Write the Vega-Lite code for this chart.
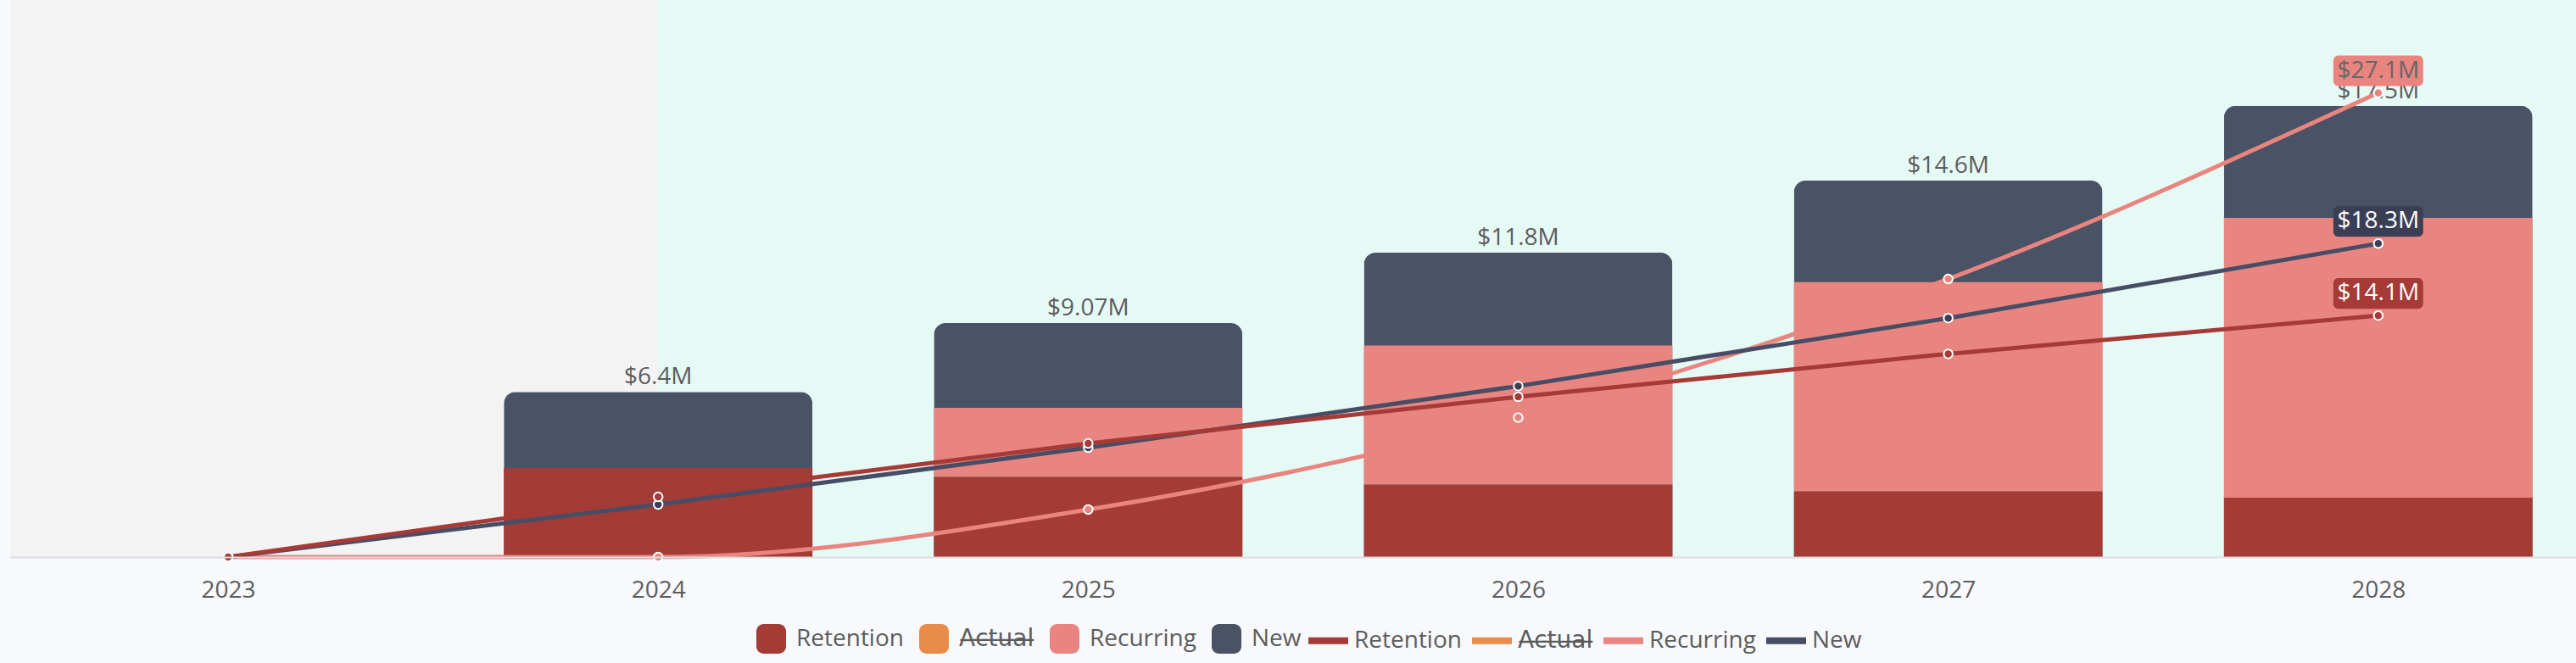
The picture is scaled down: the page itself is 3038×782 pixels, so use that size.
{
  "$schema": "https://vega.github.io/schema/vega-lite/v6.json",
  "width": 3026,
  "height": 657,
  "autosize": {"type": "none"},
  "padding": {"left": 12, "top": 0, "right": 0, "bottom": 125},
  "background": "#f8f9fc",
  "config": {
    "view": {"stroke": null},
    "font": "Open Sans",
    "legend": {"labelFont": "'Open Sans', 'DejaVu Sans'", "labelFontSize": 28, "labelColor": "#5c5c5c", "labelOffset": 12, "columnPadding": 18, "symbolOpacity": 1, "labelLimit": 400}
  },
  "datasets": {
    "periods": [
      {"period": "Actual", "start": 2022, "end": 2024},
      {"period": "Forecast", "start": 2024, "end": 2029}
    ],
    "totals": [
      {"year": 2024, "total": 6400000},
      {"year": 2025, "total": 9070000},
      {"year": 2026, "total": 11800000},
      {"year": 2027, "total": 14600000},
      {"year": 2028, "total": 17500000}
    ],
    "segments": [
      {"year": 2024, "series": "Retention", "amount": 3450000},
      {"year": 2025, "series": "Retention", "amount": 3110000},
      {"year": 2026, "series": "Retention", "amount": 2810000},
      {"year": 2027, "series": "Retention", "amount": 2550000},
      {"year": 2028, "series": "Retention", "amount": 2300000},
      {"year": 2024, "series": "Recurring", "amount": 0},
      {"year": 2025, "series": "Recurring", "amount": 2680000},
      {"year": 2026, "series": "Recurring", "amount": 5390000},
      {"year": 2027, "series": "Recurring", "amount": 8110000},
      {"year": 2028, "series": "Recurring", "amount": 10850000}
    ],
    "lines": [
      {"year": 2023, "series": "Recurring", "cum": 0},
      {"year": 2024, "series": "Recurring", "cum": 0},
      {"year": 2025, "series": "Recurring", "cum": 2770000},
      {"year": 2026, "series": "Recurring", "cum": 8140000},
      {"year": 2027, "series": "Recurring", "cum": 16230000},
      {"year": 2028, "series": "Recurring", "cum": 27100000},
      {"year": 2023, "series": "New", "cum": 0},
      {"year": 2024, "series": "New", "cum": 3070000},
      {"year": 2025, "series": "New", "cum": 6380000},
      {"year": 2026, "series": "New", "cum": 9980000},
      {"year": 2027, "series": "New", "cum": 13950000},
      {"year": 2028, "series": "New", "cum": 18300000},
      {"year": 2023, "series": "Retention", "cum": 0},
      {"year": 2024, "series": "Retention", "cum": 3510000},
      {"year": 2025, "series": "Retention", "cum": 6630000},
      {"year": 2026, "series": "Retention", "cum": 9350000},
      {"year": 2027, "series": "Retention", "cum": 11860000},
      {"year": 2028, "series": "Retention", "cum": 14100000}
    ]
  },
  "layer": [
    {
      "data": {"name": "periods"},
      "transform": [{"filter": "datum.period === 'Actual'"}],
      "mark": {"type": "rect", "fill": "#f3f3f4", "clip": true},
      "encoding": {
        "x": {"field": "start", "type": "quantitative", "scale": {"domain": [2022.503, 2028.45], "nice": false, "zero": false},
          "axis": {"title": null, "values": [2023, 2024, 2025, 2026, 2027, 2028], "format": "d", "grid": false, "ticks": false, "tickSize": 0, "labelPadding": 25, "labelFontSize": 28, "labelColor": "#5c5c5c", "labelFont": "Open Sans", "domainColor": "#dcdde2", "domainWidth": 2, "labelFlush": false, "zindex": 1}},
        "x2": {"field": "end"}
      }
    },
    {
      "data": {"name": "periods"},
      "transform": [{"filter": "datum.period === 'Forecast'"}],
      "mark": {"type": "rect", "fill": "#e6faf5", "clip": true},
      "encoding": {
        "x": {"field": "start", "type": "quantitative", "scale": {"domain": [2022.503, 2028.45], "nice": false, "zero": false},
          "axis": {"title": null, "values": [2023, 2024, 2025, 2026, 2027, 2028], "format": "d", "grid": false, "ticks": false, "tickSize": 0, "labelPadding": 25, "labelFontSize": 28, "labelColor": "#5c5c5c", "labelFont": "Open Sans", "domainColor": "#dcdde2", "domainWidth": 2, "labelFlush": false, "zindex": 1}},
        "x2": {"field": "end"}
      }
    },
    {
      "layer": [
        {
          "data": {"name": "totals"},
          "mark": {"type": "bar", "width": 364, "fill": "#4a5266", "cornerRadiusTopLeft": 14, "cornerRadiusTopRight": 14},
          "encoding": {
            "x": {"field": "year", "type": "quantitative", "scale": {"domain": [2022.503, 2028.45], "nice": false, "zero": false},
              "axis": {"title": null, "values": [2023, 2024, 2025, 2026, 2027, 2028], "format": "d", "grid": false, "ticks": false, "tickSize": 0, "labelPadding": 25, "labelFontSize": 28, "labelColor": "#5c5c5c", "labelFont": "Open Sans", "domainColor": "#dcdde2", "domainWidth": 2, "labelFlush": false, "zindex": 1}},
            "y": {"field": "total", "type": "quantitative", "scale": {"domain": [0, 21600000], "nice": false}, "axis": null}
          }
        },
        {
          "data": {"name": "segments"},
          "mark": {"type": "bar", "width": 364},
          "encoding": {
            "x": {"field": "year", "type": "quantitative", "scale": {"domain": [2022.503, 2028.45], "nice": false, "zero": false},
              "axis": {"title": null, "values": [2023, 2024, 2025, 2026, 2027, 2028], "format": "d", "grid": false, "ticks": false, "tickSize": 0, "labelPadding": 25, "labelFontSize": 28, "labelColor": "#5c5c5c", "labelFont": "Open Sans", "domainColor": "#dcdde2", "domainWidth": 2, "labelFlush": false, "zindex": 1}},
            "y": {"field": "amount", "type": "quantitative", "stack": "zero", "scale": {"domain": [0, 21600000], "nice": false}, "axis": null},
            "order": {"field": "series", "sort": "descending"},
            "fill": {"field": "series", "type": "nominal",
              "scale": {"domain": ["Retention", "Actual", "Recurring", "New"], "range": ["#a33b37", "#e88c4c", "#e98581", "#4a5266"]},
              "legend": {"title": null, "orient": "none", "legendX": 880, "legendY": 736, "direction": "horizontal",
                "symbolType": "M-0.5,-1L0.5,-1A0.5,0.5,0,0,1,1,-0.5L1,0.5A0.5,0.5,0,0,1,0.5,1L-0.5,1A0.5,0.5,0,0,1,-1,0.5L-1,-0.5A0.5,0.5,0,0,1,-0.5,-1Z",
                "symbolSize": 1225, "symbolStrokeWidth": 0,
                "labelExpr": "datum.label === 'Actual' ? 'A\u0336c\u0336t\u0336u\u0336a\u0336l\u0336' : datum.label"}}
          }
        },
        {
          "data": {"name": "totals"},
          "mark": {"type": "text", "dy": -9, "baseline": "alphabetic", "align": "center", "fontSize": 28, "font": "Open Sans", "color": "#5c5c5c"},
          "encoding": {
            "x": {"field": "year", "type": "quantitative", "scale": {"domain": [2022.503, 2028.45], "nice": false, "zero": false},
              "axis": {"title": null, "values": [2023, 2024, 2025, 2026, 2027, 2028], "format": "d", "grid": false, "ticks": false, "tickSize": 0, "labelPadding": 25, "labelFontSize": 28, "labelColor": "#5c5c5c", "labelFont": "Open Sans", "domainColor": "#dcdde2", "domainWidth": 2, "labelFlush": false, "zindex": 1}},
            "y": {"field": "total", "type": "quantitative", "scale": {"domain": [0, 21600000], "nice": false}, "axis": null},
            "text": {"field": "total", "type": "quantitative", "format": "$.3~s"}
          }
        }
      ]
    },
    {
      "data": {"name": "lines"},
      "encoding": {
        "x": {"field": "year", "type": "quantitative", "scale": {"domain": [2022.503, 2028.45], "nice": false, "zero": false},
          "axis": {"title": null, "values": [2023, 2024, 2025, 2026, 2027, 2028], "format": "d", "grid": false, "ticks": false, "tickSize": 0, "labelPadding": 25, "labelFontSize": 28, "labelColor": "#5c5c5c", "labelFont": "Open Sans", "domainColor": "#dcdde2", "domainWidth": 2, "labelFlush": false, "zindex": 1}},
        "y": {"field": "cum", "type": "quantitative", "scale": {"domain": [0, 32520000], "nice": false}, "axis": null}
      },
      "layer": [
        {
          "mark": {"type": "line", "interpolate": "monotone", "strokeWidth": 5},
          "encoding": {
            "stroke": {"field": "series", "type": "nominal",
              "scale": {"domain": ["New", "Recurring", "Actual", "Retention"], "range": ["#474d64", "#e9847f", "#e88c4c", "#a63a36"]},
              "legend": {"title": null, "orient": "none", "legendX": 1527, "legendY": 728, "direction": "horizontal",
                "values": ["Retention", "Actual", "Recurring", "New"],
                "symbolType": "stroke", "symbolSize": 2209, "symbolStrokeWidth": 8, "labelOffset": 3, "columnPadding": -4,
                "labelExpr": "datum.label === 'Actual' ? 'A\u0336c\u0336t\u0336u\u0336a\u0336l\u0336' : datum.label"}}
          }
        },
        {
          "mark": {"type": "point", "filled": true, "size": 110, "stroke": "#ffffff", "strokeWidth": 2, "opacity": 1},
          "encoding": {
            "color": {"field": "series", "type": "nominal",
              "scale": {"domain": ["Retention", "Recurring", "New"], "range": ["#a63a36", "#e9847f", "#3b3f56"]},
              "legend": null}
          }
        },
        {
          "transform": [{"filter": "datum.year === 2028"}],
          "mark": {"type": "point", "filled": true, "opacity": 1, "strokeWidth": 0, "size": 11236, "yOffset": -26,
            "shape": "M-0.887,-0.34L0.887,-0.34A0.113,0.113,0,0,1,1,-0.227L1,0.227A0.113,0.113,0,0,1,0.887,0.34L-0.887,0.34A0.113,0.113,0,0,1,-1,0.227L-1,-0.227A0.113,0.113,0,0,1,-0.887,-0.34Z"},
          "encoding": {
            "color": {"field": "series", "type": "nominal",
              "scale": {"domain": ["Retention", "Recurring", "New"], "range": ["#a63a36", "#e9847f", "#3b3f56"]},
              "legend": null}
          }
        },
        {
          "transform": [{"filter": "datum.year === 2028"}],
          "mark": {"type": "text", "dy": -26, "baseline": "middle", "align": "center", "fontSize": 28, "font": "Open Sans"},
          "encoding": {
            "text": {"field": "cum", "type": "quantitative", "format": "$.3~s"},
            "color": {"condition": {"test": "datum.series === 'Recurring'", "value": "#666666"}, "value": "#ffffff"}
          }
        }
      ]
    }
  ],
  "resolve": {"scale": {"y": "independent"}}
}
